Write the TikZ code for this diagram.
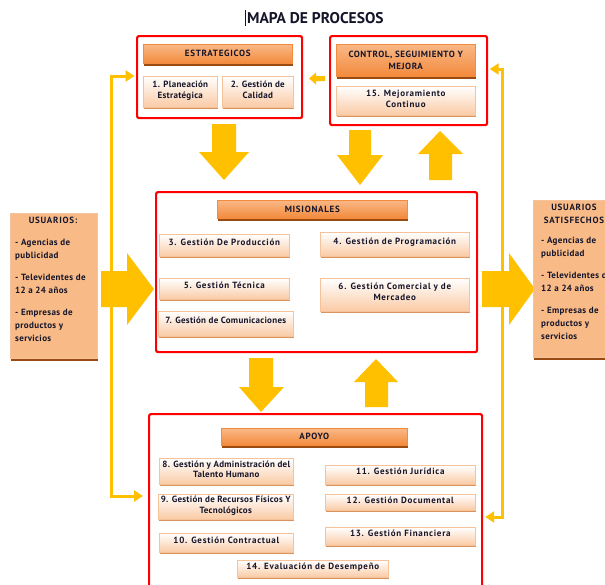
\documentclass[tikz,border=0pt]{standalone}
\usepackage{fontspec}
\setmainfont{PT Sans}
\usetikzlibrary{shadows,arrows.meta}
\definecolor{gold}{HTML}{FFC000}
\definecolor{txt}{HTML}{15152A}
\definecolor{peach}{HTML}{FACAA4}
\definecolor{itemborder}{HTML}{F6C29A}
\definecolor{itemshadow}{HTML}{D9935E}
\definecolor{hdrtop}{HTML}{F9B886}
\definecolor{hdrbot}{HTML}{F38A3C}
\definecolor{hdrshadow}{HTML}{9A4B12}
\definecolor{usrlight}{HTML}{F8BA86}
\definecolor{usrdark}{HTML}{F29752}
\tikzset{
  redbox/.style={draw=red, line width=2.2pt, rounded corners=2pt, anchor=north west, inner sep=0pt},
  item/.style={draw=itemborder, line width=0.6pt, top color=white, bottom color=peach,
    anchor=north west, align=center, inner sep=0.5pt, text depth=4pt,
    drop shadow={shadow xshift=0.8pt, shadow yshift=-2pt, fill=itemshadow, opacity=1}},
  hdr/.style={draw=hdrbot, line width=0.6pt, top color=hdrtop, bottom color=hdrbot,
    anchor=north west, align=center, inner sep=1pt,
    drop shadow={shadow xshift=1pt, shadow yshift=-2.2pt, fill=hdrshadow, opacity=1}},
  usr/.style={draw=itemborder, line width=0.6pt, top color=usrlight, middle color=usrdark, bottom color=usrlight,
    anchor=north west, inner sep=0pt,
    drop shadow={shadow xshift=1pt, shadow yshift=-2.2pt, fill=hdrshadow, opacity=1}},
  fb/.style={draw=gold, line width=3pt},
  tight/.style={font=\fontsize{9}{10.5}\selectfont\bfseries\addfontfeature{LetterSpace=3}},
  listtext/.style={anchor=north west, align=left, inner sep=0pt,
    font=\fontsize{9}{13}\selectfont\bfseries\addfontfeature{LetterSpace=4}},
}
\begin{document}
\begin{tikzpicture}[x=1pt, y={(0pt,-1pt)}, text=txt,
  font=\fontsize{9}{10.5}\selectfont\bfseries\addfontfeature{LetterSpace=8}]
\useasboundingbox (0,0) rectangle (605,584);
\fill[white] (0,0) rectangle (605,584);

% title
\node[font=\fontsize{15.5}{17}\selectfont\bfseries, anchor=west, inner sep=0pt] (title) at (247,18) {MAPA DE PROCESOS};
\draw[txt, line width=0.6pt] ([xshift=-2pt,yshift=2pt]title.north west) -- ([xshift=-2pt,yshift=-2pt]title.south west);

% big block arrows
\fill[gold] (212,124) -- (236,124) -- (236,152) -- (249,152) -- (224,180) -- (199,152) -- (212,152) -- cycle;
\fill[gold] (349,130) -- (371,130) -- (371,155) -- (383,155) -- (360,185) -- (337,155) -- (349,155) -- cycle;
\fill[gold] (429,180) -- (452,180) -- (452,154) -- (463,154) -- (440,131) -- (418,154) -- (429,154) -- cycle;
\fill[gold] (249,358) -- (273,358) -- (273,387) -- (284,387) -- (261,412) -- (239,387) -- (249,387) -- cycle;
\fill[gold] (365,407) -- (388,407) -- (388,382) -- (398,382) -- (376,359) -- (354,382) -- (365,382) -- cycle;
\fill[gold] (101,271) -- (127,271) -- (127,253) -- (154,289) -- (127,325) -- (127,307) -- (101,307) -- cycle;
\fill[gold] (482,271) -- (509,271) -- (509,253) -- (535,289) -- (509,325) -- (509,307) -- (482,307) -- cycle;
% small arrow
\fill[gold] (325,76) -- (316,76) -- (316,72.5) -- (309,78.5) -- (316,84.5) -- (316,81) -- (325,81) -- cycle;

% red frames
\node[redbox, minimum width=165pt, minimum height=82pt] (estr) at (136,35) {};
\node[redbox, minimum width=157pt, minimum height=89pt] (ctrl) at (329,35) {};
\node[redbox, minimum width=321pt, minimum height=160pt] (mis) at (155,191) {};
\node[redbox, minimum width=333pt, minimum height=190pt] (apo) at (148,413) {};

% feedback lines
\draw[fb, {Triangle[length=9pt,width=11pt]}-{Triangle[length=9pt,width=11pt]}]
  ([xshift=-1.5pt]estr.west |- 0,76) -| (111,496) -- ([xshift=-5pt]apo.west |- 0,496);
\draw[fb, {Triangle[length=9pt,width=11pt]}-{Triangle[length=9pt,width=11pt]}]
  ([xshift=1.5pt]ctrl.east |- 0,69) -| (502,517) -- ([xshift=2pt]apo.east |- 0,517);

% headers
\node[hdr, minimum width=149pt, minimum height=19pt] (estrH) at (143,44) {ESTRATEGICOS};
\node[hdr, minimum width=139pt, minimum height=32pt, font=\fontsize{9}{12}\selectfont\bfseries\addfontfeature{LetterSpace=6}] (ctrlH) at (336,44) {CONTROL, SEGUIMIENTO Y\\MEJORA};
\node[hdr, minimum width=190pt, minimum height=18pt] (misH) at (217,200) {MISIONALES};
\node[hdr, minimum width=186pt, minimum height=17pt] (apoH) at (221,428) {APOYO};

% items
\node[item, minimum width=74pt, minimum height=31pt, tight] (i1) at (143,76) {1. Planeación\\Estratégica};
\node[item, minimum width=71pt, minimum height=31pt, tight] (i2) at (222,76) {2. Gestión de\\Calidad};
\node[item, minimum width=139pt, minimum height=29pt] (i15) at (336,86) {15. Mejoramiento\\Continuo};
\node[item, minimum width=130pt, minimum height=22pt, text depth=7pt] (i3) at (159,234) {3. Gestión De Producción};
\node[item, minimum width=149pt, minimum height=24pt, text depth=7pt] (i4) at (320,232) {4. Gestión de Programación};
\node[item, minimum width=130pt, minimum height=21pt, text depth=7pt] (i5) at (159,278) {5. Gestión Técnica};
\node[item, minimum width=149pt, minimum height=33pt, text depth=6pt] (i6) at (320,278) {6. Gestión Comercial y de\\Mercadeo};
\node[item, minimum width=135pt, minimum height=25pt, text depth=8pt, tight] (i7) at (158,311) {7. Gestión de Comunicaciones};
\node[item, minimum width=134pt, minimum height=26pt, tight] (i8) at (159,458) {8. Gestión y Administración del\\Talento Humano};
\node[item, minimum width=135pt, minimum height=25pt, tight] (i9) at (158,494) {9. Gestión de Recursos Físicos Y\\Tecnológicos};
\node[item, minimum width=134pt, minimum height=19pt, text depth=6pt] (i10) at (159,533) {10. Gestión Contractual};
\node[item, minimum width=150pt, minimum height=19pt, text depth=7pt] (i11) at (325,465) {11. Gestión Jurídica};
\node[item, minimum width=150pt, minimum height=16pt, text depth=5pt] (i12) at (325,494) {12. Gestión Documental};
\node[item, minimum width=150pt, minimum height=18pt, text depth=7pt] (i13) at (325,527) {13. Gestión Financiera};
\node[item, minimum width=151pt, minimum height=17pt, text depth=6pt] (i14) at (237,560) {14. Evaluación de Desempeño};

% users
\node[usr, minimum width=87pt, minimum height=145pt] (usr) at (10,213) {};
\node[anchor=north, inner sep=0pt] (usrT) at (53,217) {USUARIOS:};
\node[listtext] (usrL) at (15,239)
  {- Agencias de\\publicidad\\[9pt]- Televidentes de\\12 a 24 años\\[9pt]- Empresas de\\productos y\\servicios};

\node[usr, minimum width=87pt, minimum height=157pt] (sat) at (533,200) {};
\node[anchor=north, align=center, inner sep=0pt, font=\fontsize{9}{13}\selectfont\bfseries\addfontfeature{LetterSpace=8}] (satT) at (574,204) {USUARIOS\\SATISFECHOS};
\node[listtext] (satL) at (541,237)
  {- Agencias de\\publicidad\\[9pt]- Televidentes de\\12 a 24 años\\[9pt]- Empresas de\\productos y\\servicios};
\end{tikzpicture}
\end{document}
